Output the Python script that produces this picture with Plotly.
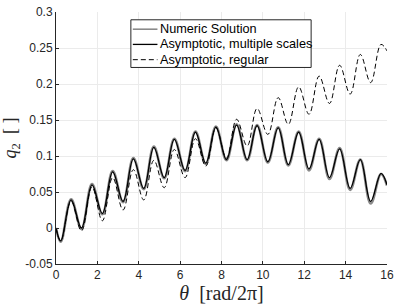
import plotly.graph_objects as go

# extrema / key points
theta = [0, 0.23, 0.73, 1.23, 1.74, 2.24, 2.74, 3.24, 3.74, 4.24, 4.73, 5.23, 5.72, 6.24,
         6.74, 7.24, 7.73, 8.24, 8.73, 9.24, 9.72, 10.24, 10.74, 11.23, 11.73, 12.23, 12.72,
         13.22, 13.71, 14.22, 14.71, 15.21, 15.71, 16.0]

q2_numeric = [0, -0.019, 0.040, -0.001, 0.061, 0.019, 0.079, 0.036, 0.097, 0.054, 0.113, 0.069,
              0.124, 0.079, 0.134, 0.089, 0.141, 0.094, 0.144, 0.094, 0.143, 0.091, 0.140, 0.087,
              0.134, 0.080, 0.124, 0.068, 0.111, 0.053, 0.095, 0.034, 0.075, 0.059]

q2_multiple = [0, -0.018, 0.039, 0.000, 0.060, 0.020, 0.078, 0.037, 0.096, 0.055, 0.112, 0.070,
               0.123, 0.080, 0.133, 0.090, 0.140, 0.095, 0.143, 0.095, 0.142, 0.092, 0.139, 0.088,
               0.133, 0.082, 0.123, 0.070, 0.110, 0.055, 0.095, 0.037, 0.076, 0.060]

q2_regular = [0, -0.018, 0.037, -0.004, 0.057, 0.010, 0.070, 0.025, 0.081, 0.039, 0.094, 0.056,
              0.109, 0.070, 0.124, 0.086, 0.139, 0.097, 0.151, 0.114, 0.166, 0.130, 0.181, 0.144,
              0.196, 0.158, 0.211, 0.173, 0.226, 0.186, 0.241, 0.202, 0.255, 0.246]

series_names = ["Numeric Solution", "Asymptotic, multiple scales", "Asymptotic, regular"]

x_ticks = [0, 2, 4, 6, 8, 10, 12, 14, 16]
y_ticks = [-0.05, 0, 0.05, 0.1, 0.15, 0.2, 0.25, 0.3]
y_tick_text = ["-0.05", "0", "0.05", "0.1", "0.15", "0.2", "0.25", "0.3"]

styles = [
    dict(color="#8a8a8a", width=2.6),
    dict(color="black", width=1.3),
    dict(color="black", width=1.0, dash="5px,3px"),
]

fig = go.Figure()
for name, ys, st in zip(series_names, [q2_numeric, q2_multiple, q2_regular], styles):
    fig.add_trace(go.Scatter(x=theta, y=ys, mode="lines", name=name, showlegend=False,
                             line=dict(shape="spline", smoothing=1.1, **st)))

axis_common = dict(showgrid=True, gridcolor="#ebebeb", gridwidth=1, zeroline=False,
                   showline=True, linecolor="#262626", linewidth=1, ticks="inside",
                   ticklen=3, tickcolor="#262626", mirror=False, ticklabeloverflow="allow",
                   tickfont=dict(family="Liberation Sans, Arial, sans-serif", size=12, color="#262626"))

fig.update_xaxes(range=[0, 16.0001], tickvals=x_ticks, **axis_common,
                 title=dict(text="<i>θ</i>\u00a0\u00a0[rad/2π]", standoff=0,
                            font=dict(family="Liberation Serif, DejaVu Serif, serif", size=20, color="#262626")))
fig.update_yaxes(range=[-0.05, 0.30001], tickvals=y_ticks, ticktext=y_tick_text, **axis_common,
                 title=dict(text="<i>q</i><sub>2</sub>\u00a0\u00a0[\u00a0]", standoff=6,
                            font=dict(family="Liberation Serif, DejaVu Serif, serif", size=18, color="#262626")))

# manual legend box (paper coordinates)
box_x0, box_x1, box_y0, box_y1 = 0.2262, 0.7708, 0.7799, 0.9691
row_y = [0.9317, 0.8714, 0.8108]
sample_x0, sample_x1, text_x = 0.2321, 0.3065, 0.3095

shapes = [dict(type="rect", xref="paper", yref="paper", x0=box_x0, x1=box_x1, y0=box_y0, y1=box_y1,
               line=dict(color="#262626", width=1), fillcolor="white", layer="above")]
annotations = []
for name, ry, st in zip(series_names, row_y, styles):
    shapes.append(dict(type="line", xref="paper", yref="paper", x0=sample_x0, x1=sample_x1,
                       y0=ry, y1=ry, line=dict(color=st["color"], width=min(st["width"], 1.6),
                                               dash=st.get("dash", "solid")), layer="above"))
    annotations.append(dict(xref="paper", yref="paper", x=text_x, y=ry, text=name, showarrow=False,
                            xanchor="left", yanchor="middle",
                            font=dict(family="Liberation Sans, Arial, sans-serif", size=12.7, color="black")))

fig.update_layout(
    width=399, height=305,
    margin=dict(l=56, r=7, t=5, b=41),
    plot_bgcolor="white", paper_bgcolor="white",
    shapes=shapes, annotations=annotations,
    showlegend=False,
)

fig.write_html("out.html", config={"displayModeBar": False},
               post_script="document.body.style.margin='0px';")
